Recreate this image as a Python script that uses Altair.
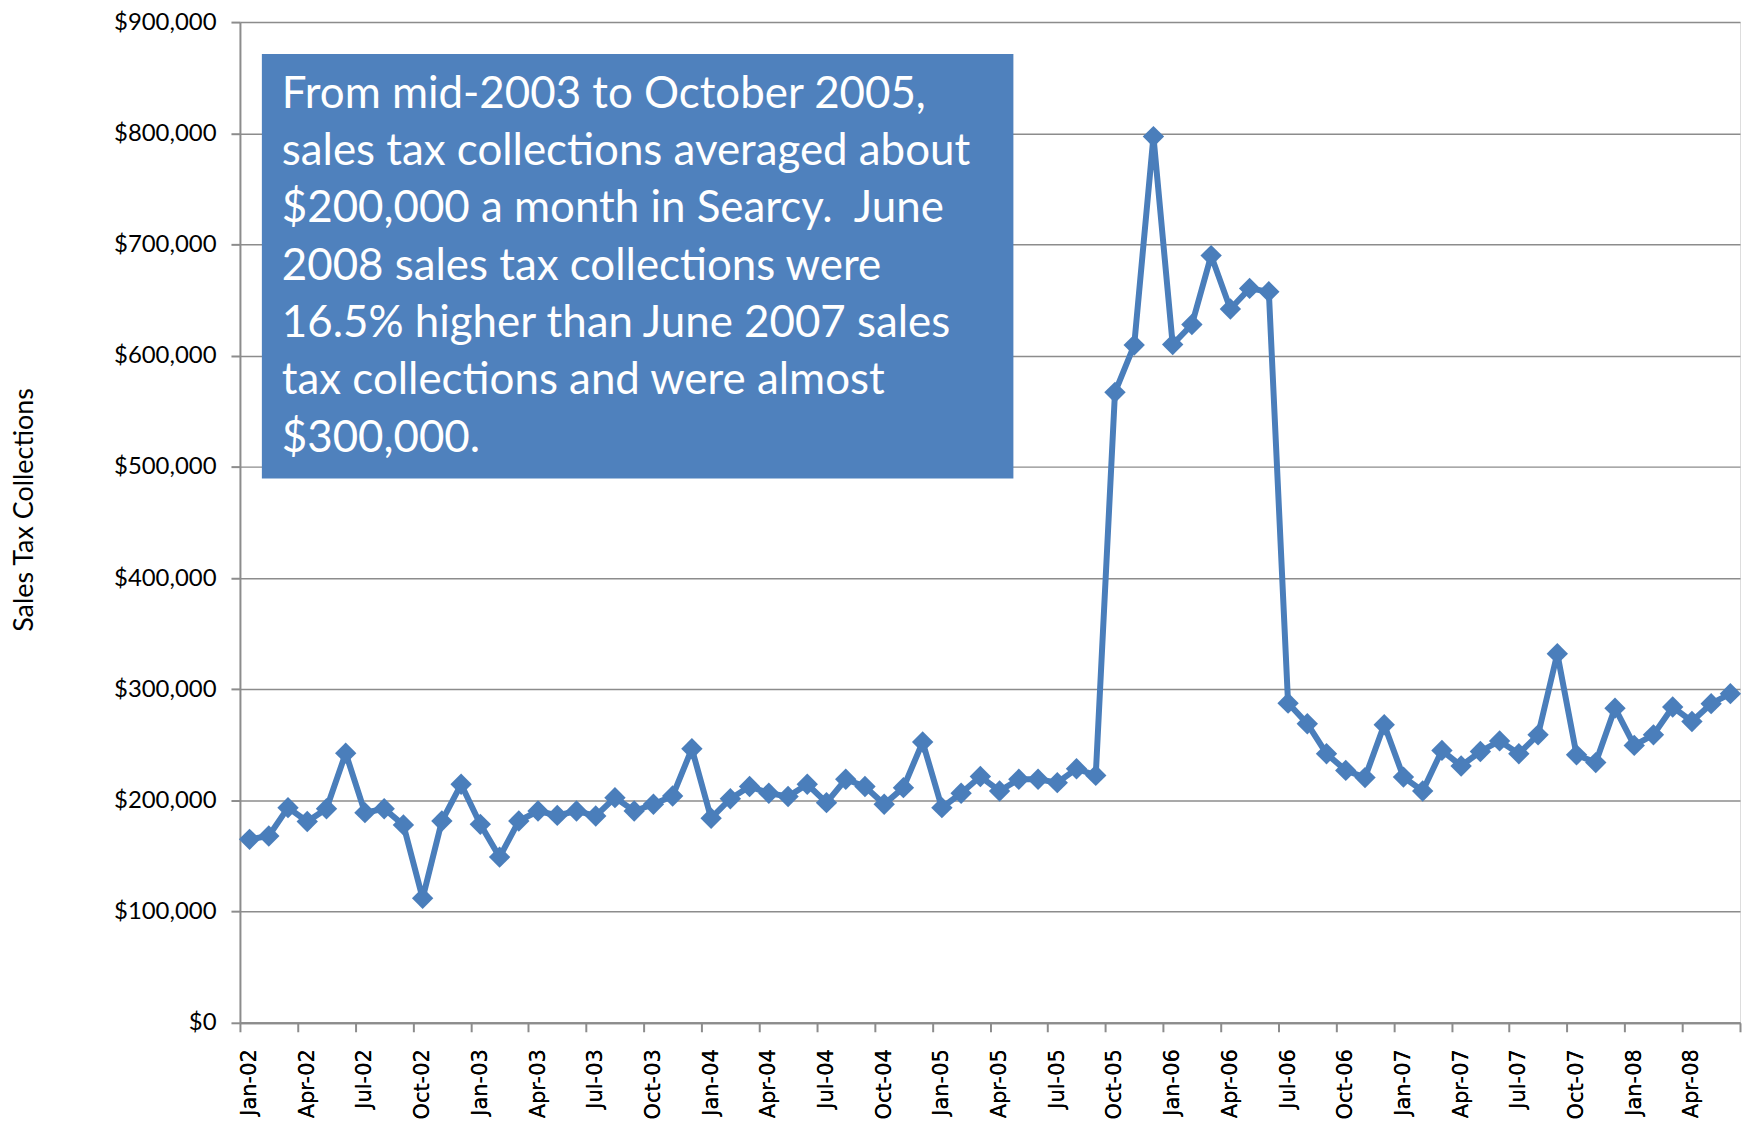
import altair as alt
import pandas as pd

# Monthly sales tax collections, Jan 2002 .. Jun 2008 (78 months)
values = [
    165000, 168000, 193500, 181000, 192500, 242500, 189000, 192500, 178000, 112000, 181500, 214500,
    178500, 149000, 181500, 190500, 186500, 190500, 186000, 202500, 190500, 196500, 204000, 246500,
    184000, 201500, 212500, 206500, 203500, 214500, 198000, 219000, 212500, 196500, 211500, 252500,
    193500, 206500, 221500, 208500, 219000, 219000, 216000, 228500, 222500, 567000, 609500, 797000,
    610000, 628000, 690000, 642000, 660500, 657500, 287500, 269000, 242000, 227000, 220500, 268000,
    221000, 208500, 245000, 231000, 244000, 253500, 242000, 259000, 332000, 241000, 234000, 283000,
    249500, 259000, 284000, 271000, 287000, 296000,
]
month_index = list(range(len(values)))

tick_labels = [
    "Jan-02", "Apr-02", "Jul-02", "Oct-02", "Jan-03", "Apr-03", "Jul-03", "Oct-03",
    "Jan-04", "Apr-04", "Jul-04", "Oct-04", "Jan-05", "Apr-05", "Jul-05", "Oct-05",
    "Jan-06", "Apr-06", "Jul-06", "Oct-06", "Jan-07", "Apr-07", "Jul-07", "Oct-07",
    "Jan-08", "Apr-08",
]
label_positions = [3 * i for i in range(len(tick_labels))]
tick_positions = [3 * i - 0.5 for i in range(27)]
y_ticks = [100000 * i for i in range(10)]

note_lines = [
    "From mid-2003 to October 2005,",
    "sales tax collections averaged about",
    "$200,000 a month in Searcy.\u00a0 June",
    "2008 sales tax collections were",
    "16.5% higher than June 2007 sales",
    "tax collections and were almost",
    "$300,000.",
]

df = pd.DataFrame({"idx": month_index, "value": values})

W, H = 1505, 1004
BLUE = "#4A7EBB"
GRAY = "#8C8C8C"

label_js = "[" + ",".join(f"'{t}'" for t in tick_labels) + "]"

xscale = alt.Scale(domain=[-0.5, len(values) - 0.5], nice=False, zero=False)

yenc = alt.Y(
    "value:Q",
    scale=alt.Scale(domain=[0, 900000], nice=False),
    axis=alt.Axis(
        values=y_ticks,
        format="$,.0f",
        title="Sales Tax Collections",
        titleFont="Lato",
        titleFontSize=27,
        titleFontWeight="normal",
        titleColor="black",
        titleX=-216,
        titleY=489,
        titleAngle=-90,
        titleBaseline="middle",
        titleAlign="center",
        labelFont="Lato",
        labelFontSize=24,
        labelColor="black",
        labelPadding=15,
        tickSize=9,
        tickColor=GRAY,
        tickWidth=2,
        domainColor=GRAY,
        domainWidth=2,
        grid=True,
        gridColor=GRAY,
        gridWidth=1.5,
    ),
)

xlabels_axis = alt.Axis(
    values=label_positions,
    labelExpr=f"{label_js}[round(datum.value/3)]",
    labelAngle=-90,
    labelFont="DejaVu Sans",
    labelFontSize=21,
    labelColor="black",
    labelPadding=26,
    ticks=False,
    grid=False,
    domainColor=GRAY,
    domainWidth=2,
    title=None,
    orient="bottom",
    labelOverlap=False,
)

xticks_axis = alt.Axis(
    values=tick_positions,
    labels=False,
    ticks=True,
    tickSize=9,
    tickColor=GRAY,
    tickWidth=2,
    domain=False,
    grid=False,
    title=None,
    orient="bottom",
)

line = alt.Chart(df).mark_line(color=BLUE, strokeWidth=6).encode(
    x=alt.X("idx:Q", scale=xscale, axis=xlabels_axis),
    y=yenc,
)
points = alt.Chart(df).mark_point(
    shape="diamond", filled=True, color=BLUE, size=460, opacity=1
).encode(
    x=alt.X("idx:Q", scale=xscale, axis=xlabels_axis),
    y=yenc,
)
tick_layer = alt.Chart(df).mark_point(opacity=0).encode(
    x=alt.X("idx:Q", scale=xscale, axis=xticks_axis),
)

box_df = pd.DataFrame({"k": [0]})
box = alt.Chart(box_df).mark_rect(color="#4F81BD").encode(
    x=alt.value(22), x2=alt.value(776), y=alt.value(32), y2=alt.value(458)
)
note = alt.Chart(box_df).mark_text(
    text=note_lines,
    font="Lato",
    fontSize=44,
    color="white",
    align="left",
    baseline="middle",
    lineHeight=57.5,
).encode(x=alt.value(42), y=alt.value(73))

chart = (
    alt.layer(line, points, tick_layer, box, note)
    .resolve_axis(x="independent")
    .properties(
        width=W,
        height=H,
        autosize=alt.AutoSizeParams(type="none"),
        padding={"left": 232.7, "top": 12.3, "right": 2, "bottom": 100},
    )
    .configure_view(stroke=None)
    .configure(background="white")
)

chart.save("out.html", embed_options={"renderer": "svg", "actions": False})
